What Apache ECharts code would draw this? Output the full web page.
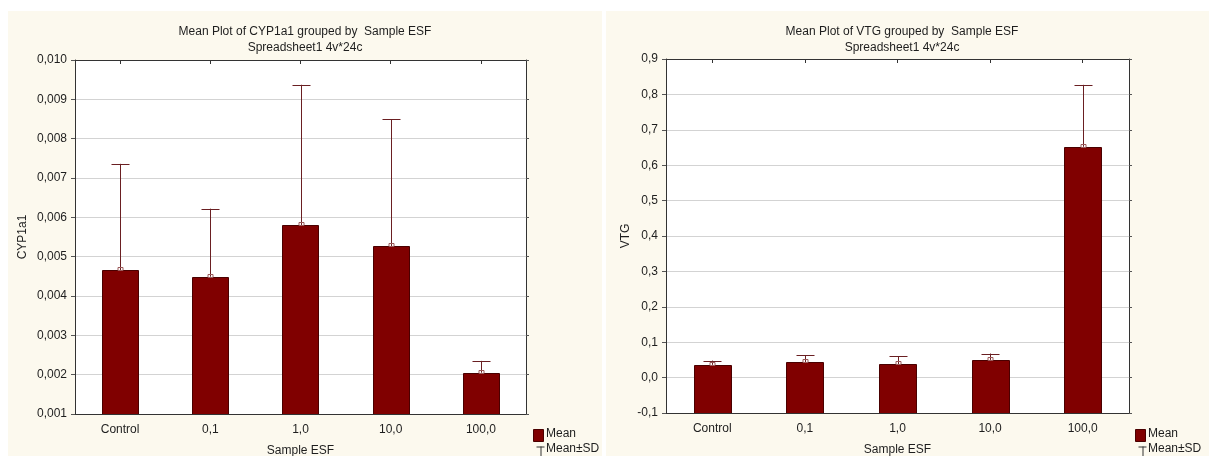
<!DOCTYPE html>
<html>
<head>
<meta charset="utf-8">
<script src="https://cdn.jsdelivr.net/npm/echarts@6/dist/echarts.min.js"></script>
<style>
html,body{margin:0;padding:0;background:#fff;}
#c{width:1209px;height:456px;}
</style>
</head>
<body>
<div id="c"></div>
<script>
const categories = ['Control', '0,1', '1,0', '10,0', '100,0'];
const cypMean = [0.00466, 0.00449, 0.00580, 0.00527, 0.00205];
const cypSD = [0.00270, 0.00173, 0.00357, 0.00323, 0.00030];
const vtgMean = [0.036, 0.043, 0.038, 0.050, 0.652];
const vtgSD = [0.012, 0.020, 0.022, 0.018, 0.175];
const cypTicks = {min: 0.001, max: 0.010, interval: 0.001, digits: 3};
const vtgTicks = {min: -0.1, max: 0.9, interval: 0.1, digits: 1};

const FONT = 'Liberation Sans';
const BAR = '#800000';
const ERR = '#6a1f22';
const TXT = '#1e1e1e';

function fmt(digits) {
  return v => {
    let s = (Math.round(v * Math.pow(10, digits)) / Math.pow(10, digits)).toFixed(digits);
    if (s === '-' + (0).toFixed(digits)) s = (0).toFixed(digits);
    return s.replace('.', ',');
  };
}

function barItem(yMin) {
  return function (params, api) {
    const i = api.value(0);
    const top = api.coord([i, api.value(1)]);
    const base = api.coord([i, yMin]);
    const w = api.size([1, 0])[0] * 0.4;
    return {
      type: 'rect',
      shape: {x: Math.round(top[0] - w / 2) + 0.5, y: Math.round(top[1]) + 0.5, width: Math.round(w), height: Math.round(base[1] - top[1])},
      style: {fill: BAR, stroke: '#4a0000', lineWidth: 1}
    };
  };
}

function errItem(params, api) {
  const i = api.value(0);
  const m = api.coord([i, api.value(1)]);
  const u = api.coord([i, api.value(2)]);
  const x = Math.round(m[0]) + 0.5;
  return {
    type: 'group',
    children: [
      {type: 'line', shape: {x1: x, y1: m[1], x2: x, y2: u[1]}, style: {stroke: ERR, lineWidth: 1}},
      {type: 'line', shape: {x1: x - 9, y1: Math.round(u[1]) + 0.5, x2: x + 9, y2: Math.round(u[1]) + 0.5}, style: {stroke: ERR, lineWidth: 1}},
      {type: 'rect', shape: {x: x - 2.5, y: Math.round(m[1]) - 2.5, width: 5, height: 3}, style: {fill: 'none', stroke: '#9a5a5a', lineWidth: 1}}
    ]
  };
}

const grids = [
  {left: 75, top: 60, width: 451, height: 354},
  {left: 666, top: 59, width: 463, height: 354}
];

function xAxes(gi) {
  const common = {
    type: 'category', data: categories, gridIndex: gi,
    axisLine: {show: true, onZero: false, lineStyle: {color: '#333', width: 1}},
    splitLine: {show: false}
  };
  return [
    Object.assign({}, common, {
      position: 'bottom',
      axisTick: {show: false},
      axisLabel: {color: TXT, fontFamily: FONT, fontSize: 12, margin: 10},
      name: 'Sample ESF', nameLocation: 'middle', nameGap: 31,
      nameTextStyle: {color: TXT, fontFamily: FONT, fontSize: 12}
    }),
    Object.assign({}, common, {
      position: 'top',
      axisTick: {show: true, alignWithLabel: true, inside: true, length: 4, lineStyle: {color: '#333'}},
      axisLabel: {show: false}
    })
  ];
}

function yAxes(gi, t, name, gap) {
  const common = {
    type: 'value', gridIndex: gi, min: t.min, max: t.max, interval: t.interval,
    axisLine: {show: true, onZero: false, lineStyle: {color: '#333', width: 1}}
  };
  return [
    Object.assign({}, common, {
      position: 'left',
      axisTick: {show: true, length: 4, lineStyle: {color: '#555'}},
      axisLabel: {color: TXT, fontFamily: FONT, fontSize: 12, margin: 8, formatter: fmt(t.digits)},
      splitLine: {show: true, lineStyle: {color: '#d3d3d3', width: 1}},
      name: name, nameLocation: 'middle', nameRotate: 90, nameGap: gap,
      nameTextStyle: {color: TXT, fontFamily: FONT, fontSize: 12}
    }),
    Object.assign({}, common, {
      position: 'right',
      axisTick: {show: true, length: 3, lineStyle: {color: '#555'}},
      axisLabel: {show: false},
      splitLine: {show: false}
    })
  ];
}

function legend(x) {
  return [
    {type: 'rect', left: x, top: 429, shape: {width: 10, height: 12}, style: {fill: BAR, stroke: '#4a0000'}},
    {type: 'text', left: x + 13, top: 428, style: {text: 'Mean', fill: TXT, font: '12px ' + FONT}},
    {type: 'group', left: x + 1, top: 444, children: [
      {type: 'line', shape: {x1: 0, y1: 0.5, x2: 8, y2: 0.5}, style: {stroke: '#333', lineWidth: 1}},
      {type: 'line', shape: {x1: 4.5, y1: 0, x2: 4.5, y2: 11}, style: {stroke: '#333', lineWidth: 1}},
      {type: 'line', shape: {x1: 0, y1: 11.5, x2: 8, y2: 11.5}, style: {stroke: '#333', lineWidth: 1}}
    ]},
    {type: 'text', left: x + 13, top: 443, style: {text: 'Mean±SD', fill: TXT, font: '12px ' + FONT}}
  ];
}

const chart = echarts.init(document.getElementById('c'), null, {renderer: 'canvas'});
chart.setOption({
  backgroundColor: '#ffffff',
  animation: false,
  textStyle: {fontFamily: FONT},
  title: [
    {text: 'Mean Plot of CYP1a1 grouped by  Sample ESF\nSpreadsheet1 4v*24c', left: 300, top: 19, textAlign: 'center',
      textStyle: {fontFamily: FONT, fontSize: 12, fontWeight: 'normal', color: TXT, lineHeight: 16}},
    {text: 'Mean Plot of VTG grouped by  Sample ESF\nSpreadsheet1 4v*24c', left: 897, top: 19, textAlign: 'center',
      textStyle: {fontFamily: FONT, fontSize: 12, fontWeight: 'normal', color: TXT, lineHeight: 16}}
  ],
  grid: grids.map(g => Object.assign({show: true, backgroundColor: '#ffffff', borderWidth: 0, containLabel: false, outerBoundsMode: 'none'}, g)),
  xAxis: [...xAxes(0), ...xAxes(1)],
  yAxis: [...yAxes(0, cypTicks, 'CYP1a1', 46), ...yAxes(1, vtgTicks, 'VTG', 34)],
  graphic: [
    {type: 'rect', z: -100, left: 8, top: 11, shape: {width: 594, height: 445}, style: {fill: '#fcf9ee'}},
    {type: 'rect', z: -100, left: 606, top: 11, shape: {width: 603, height: 445}, style: {fill: '#fcf9ee'}},
    ...legend(533), ...legend(1135)
  ],
  series: [
    {type: 'custom', xAxisIndex: 0, yAxisIndex: 0, renderItem: barItem(cypTicks.min), clip: true,
      encode: {x: 0, y: 1}, data: cypMean.map((v, i) => [i, v])},
    {type: 'custom', xAxisIndex: 0, yAxisIndex: 0, renderItem: errItem, z: 3,
      encode: {x: 0, y: [1, 2]}, data: cypMean.map((v, i) => [i, v, v + cypSD[i]])},
    {type: 'custom', xAxisIndex: 2, yAxisIndex: 2, renderItem: barItem(vtgTicks.min), clip: true,
      encode: {x: 0, y: 1}, data: vtgMean.map((v, i) => [i, v])},
    {type: 'custom', xAxisIndex: 2, yAxisIndex: 2, renderItem: errItem, z: 3,
      encode: {x: 0, y: [1, 2]}, data: vtgMean.map((v, i) => [i, v, v + vtgSD[i]])}
  ]
});
</script>
</body>
</html>
